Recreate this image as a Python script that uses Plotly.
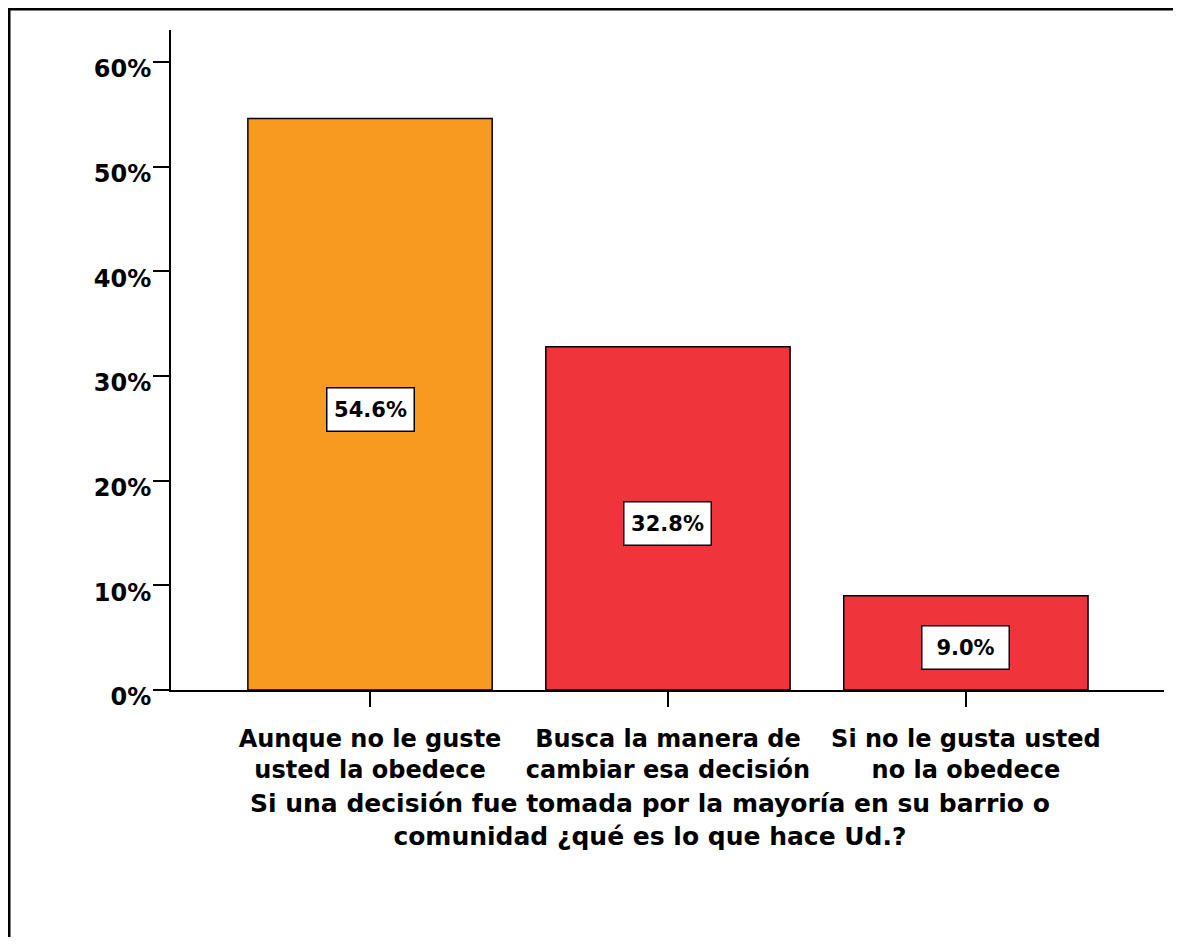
import plotly.graph_objects as go

categories = ["Aunque no le guste<br>usted la obedece",
              "Busca la manera de<br>cambiar esa decisión",
              "Si no le gusta usted<br>no la obedece"]
values = [54.6, 32.8, 9.0]
labels = ["54.6%", "32.8%", "9.0%"]
colors = ["#F99A20", "#F0343C", "#F0343C"]
yticks = [0, 10, 20, 30, 40, 50, 60]
yticklabels = ["0%", "10%", "20%", "30%", "40%", "50%", "60%"]
axis_title = "Si una decisión fue tomada por la mayoría en su barrio o<br>comunidad ¿qué es lo que hace Ud.?"

FONT = "DejaVu Sans"
# page has an 8px body margin; figure coordinates = page - 8
W, H = 1165, 929
L, R, T, B = 163, 9, 22, 247
pw = W - L - R
ph = H - T - B
X0 = H - B  # pixel y of x axis in figure coords

fig = go.Figure()
fig.add_trace(go.Bar(
    x=[0, 1, 2], y=values, width=0.82,
    marker=dict(color=colors, line=dict(color="black", width=1.5)),
    hoverinfo="skip",
))

for i, (v, lab) in enumerate(zip(values, labels)):
    fig.add_annotation(x=i, y=v / 2, xref="x", yref="y", text="<b>%s</b>" % lab,
                       showarrow=False, bgcolor="white", bordercolor="black",
                       borderwidth=1.5, borderpad=6, width=74, height=30, yshift=-5,
                       font=dict(family=FONT, size=21, color="black"))

fig.add_annotation(x=(642 - L) / pw, y=(X0 - 812) / ph, xref="paper", yref="paper",
                   text="<b>%s</b>" % axis_title, showarrow=False,
                   xanchor="center", yanchor="middle",
                   font=dict(family=FONT, size=25, color="black"))

# outer frame lines (top and left)
fig.add_shape(type="line", xref="paper", yref="paper",
              x0=(0 - L) / pw, x1=(W - L) / pw, y0=(X0 - 1) / ph, y1=(X0 - 1) / ph,
              line=dict(color="black", width=3))
fig.add_shape(type="line", xref="paper", yref="paper",
              x0=(1 - L) / pw, x1=(1 - L) / pw, y0=(X0 - 0) / ph, y1=(X0 - H) / ph,
              line=dict(color="black", width=3))

fig.update_layout(
    width=W, height=H,
    margin=dict(l=L, r=R, t=T, b=B),
    paper_bgcolor="white", plot_bgcolor="white",
    showlegend=False,
    font=dict(family=FONT, color="black"),
    xaxis=dict(
        range=[-0.668, 2.665],
        tickmode="array", tickvals=[0, 1, 2],
        ticktext=["<b>%s</b>" % c for c in categories],
        showline=True, linecolor="black", linewidth=2,
        ticks="outside", ticklen=15, tickwidth=2, tickcolor="black",
        ticklabelstandoff=11,
        tickfont=dict(family=FONT, size=24, color="black"),
        showgrid=False, zeroline=False, fixedrange=True,
    ),
    yaxis=dict(
        range=[0, 63.06],
        tickmode="array", tickvals=yticks,
        ticktext=["<b>%s</b>" % t for t in yticklabels],
        showline=True, linecolor="black", linewidth=2,
        ticks="outside", ticklen=16, tickwidth=2, tickcolor="black",
        ticklabelstandoff=-3, ticklabelshift=7,
        tickfont=dict(family=FONT, size=24, color="black"),
        showgrid=False, zeroline=False, fixedrange=True,
    ),
)

fig.write_html("out.html")
